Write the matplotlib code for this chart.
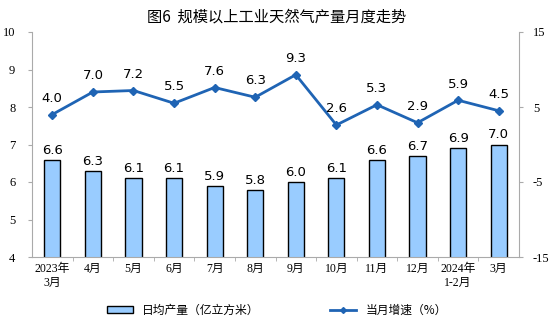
import matplotlib
matplotlib.use("Agg")
import matplotlib.pyplot as plt
from matplotlib.lines import Line2D
from matplotlib.patches import Patch

categories = ["2023年\n3月", "4月", "5月", "6月", "7月", "8月", "9月", "10月", "11月", "12月", "2024年\n1-2月", "3月"]
output = [6.6, 6.3, 6.1, 6.1, 5.9, 5.8, 6.0, 6.1, 6.6, 6.7, 6.9, 7.0]
growth = [4.0, 7.0, 7.2, 5.5, 7.6, 6.3, 9.3, 2.6, 5.3, 2.9, 5.9, 4.5]
left_ticks = [4, 5, 6, 7, 8, 9, 10]
right_ticks = [-15, -5, 5, 15]

cjk = ["Noto Sans CJK SC", "DejaVu Sans"]
serif = ["Liberation Serif", "Noto Sans CJK SC"]

fig = plt.figure(figsize=(5.54, 3.23), dpi=100)
ax = fig.add_axes([32/554, 1-257/323, (519-32)/554, (257-32)/323])
x = list(range(len(categories)))
bar_color = "#99CCFF"
line_color = "#1F64B4"
ax.bar(x, output, width=0.4, color=bar_color, edgecolor="black", linewidth=1.0, zorder=2)
ax.set_ylim(4, 10)
ax.set_xlim(-0.5, len(categories) - 0.5)
ax.set_yticks(left_ticks)
ax.set_yticklabels([str(t) for t in left_ticks], family=serif, fontsize=9)
for xi, v in zip(x, output):
    ax.text(xi, v + 0.08, f"{v:.1f}", ha="center", va="bottom", fontsize=9.5, family=["DejaVu Sans"])

ax.set_xticks(x)
ax.set_xticklabels(categories, family=serif, fontsize=8.5, linespacing=1.3)
ax.set_xticks([i + 0.5 for i in x[:-1]], minor=True)
ax.tick_params(axis="x", which="major", length=0, pad=4)
ax.tick_params(axis="x", which="minor", length=3, color="#aaaaaa", direction="out")
ax.tick_params(axis="y", length=3, color="#aaaaaa", direction="out", pad=9)

for s in ["top", "right"]:
    ax.spines[s].set_visible(False)
ax.spines["left"].set_color("#aaaaaa")
ax.spines["bottom"].set_color("#aaaaaa")

ax2 = ax.twinx()
ax2.plot(x, growth, color=line_color, linewidth=2, marker="D", markersize=4, zorder=3)
ax2.set_ylim(-15, 15)
ax2.set_yticks(right_ticks)
ax2.set_yticklabels([str(t) for t in right_ticks], family=serif, fontsize=9)
ax2.tick_params(axis="y", length=3, color="#aaaaaa", direction="out", pad=7)
for s in ["top", "left", "bottom"]:
    ax2.spines[s].set_visible(False)
ax2.spines["right"].set_color("#aaaaaa")
for xi, v in zip(x, growth):
    ax2.text(xi, v + 1.3, f"{v:.1f}", ha="center", va="bottom", fontsize=9.5, family=["DejaVu Sans"])

fig.text(0.5, 1 - 17/323, "图6  规模以上工业天然气产量月度走势", ha="center", va="center",
         fontsize=11, family=cjk)

handles = [Patch(facecolor=bar_color, edgecolor="black", linewidth=1.0),
           Line2D([0], [0], color=line_color, linewidth=2, marker="D", markersize=3)]
fig.legend(handles, ["日均产量（亿立方米）", "当月增速（%）"], loc="center",
           bbox_to_anchor=(0.5, 1 - 310/323), ncol=2, frameon=False,
           prop={"family": cjk, "size": 8.5}, columnspacing=6, handlelength=2.2, handleheight=0.6)

fig.savefig("out.png", dpi=100)
